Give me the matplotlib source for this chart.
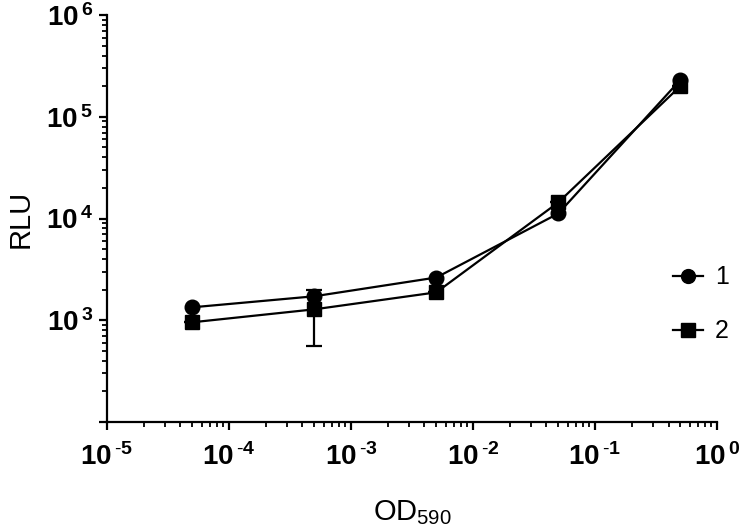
import numpy as np
import matplotlib
matplotlib.use("Agg")
import matplotlib.pyplot as plt
from matplotlib.ticker import LogLocator, FuncFormatter, NullFormatter

plt.rcParams['font.family'] = ['Liberation Sans', 'DejaVu Sans']
plt.rcParams['mathtext.fontset'] = 'custom'
plt.rcParams['mathtext.rm'] = 'Liberation Sans'
plt.rcParams['mathtext.bf'] = 'Liberation Sans:bold'

# data
od = [5e-5, 5e-4, 5e-3, 5e-2, 5e-1]
rlu_1 = [1340, 1720, 2630, 11200, 230000]
rlu_2 = [955, 1280, 1880, 14400, 200000]
err_2 = [0, 720, 0, 0, 0]
labels = ["1", "2"]

fig = plt.figure(figsize=(7.4, 5.29), dpi=100)
ax = fig.add_axes([0.1446, 0.2023, 0.8244, 0.7693])

ax.errorbar(od, rlu_2, yerr=err_2, fmt='none', ecolor='black',
            elinewidth=1.6, capsize=6, capthick=1.6, zorder=2)
l2, = ax.plot(od, rlu_2, color='black', marker='s', markersize=10,
              linewidth=1.6, label=labels[1], zorder=3)
l1, = ax.plot(od, rlu_1, color='black', marker='o', markersize=10.5,
              linewidth=1.6, label=labels[0], zorder=4)

ax.set_xscale('log')
ax.set_yscale('log')
ax.set_xlim(1e-5, 1)
ax.set_ylim(1e2, 1e6)

ax.xaxis.set_major_locator(LogLocator(base=10, numticks=10))
ax.xaxis.set_minor_locator(LogLocator(base=10, subs=np.arange(2, 10), numticks=20))
ax.yaxis.set_major_locator(LogLocator(base=10, numticks=10))
ax.yaxis.set_minor_locator(LogLocator(base=10, subs=np.arange(2, 10), numticks=20))
ax.xaxis.set_minor_formatter(NullFormatter())
ax.yaxis.set_minor_formatter(NullFormatter())


def fmt(v, pos):
    e = int(round(np.log10(v)))
    s = str(abs(e))
    if e < 0:
        s = r'\text{-}' + s
    return r'$\mathbf{10^{\,%s}}$' % s


def fmt_y(v, pos):
    e = int(round(np.log10(v)))
    if e < 3:
        return ''
    return r'$\mathbf{10^{\,%d}}$' % e


ax.xaxis.set_major_formatter(FuncFormatter(fmt))
ax.yaxis.set_major_formatter(FuncFormatter(fmt_y))

for s in ['top', 'right']:
    ax.spines[s].set_visible(False)
for s in ['left', 'bottom']:
    ax.spines[s].set_linewidth(1.6)

ax.tick_params(which='major', direction='out', length=6, width=1.6, labelsize=20)
ax.tick_params(axis='x', which='major', pad=9)
ax.tick_params(axis='y', which='major', pad=4)
ax.tick_params(which='minor', direction='out', length=3.5, width=1.3)

ax.set_ylabel('RLU', fontsize=21, labelpad=8)
ax.set_xlabel(r'OD$_{\mathrm{590}}$', fontsize=21, labelpad=20)

ax.legend([l1, l2], labels,
          loc='center left', bbox_to_anchor=(0.909, 0.4244),
          bbox_transform=fig.transFigure, frameon=False, fontsize=18,
          handlelength=1.2, handletextpad=0.5, labelspacing=1.2,
          borderpad=0, borderaxespad=0, markerscale=0.95)

fig.savefig('out.png', dpi=100)
